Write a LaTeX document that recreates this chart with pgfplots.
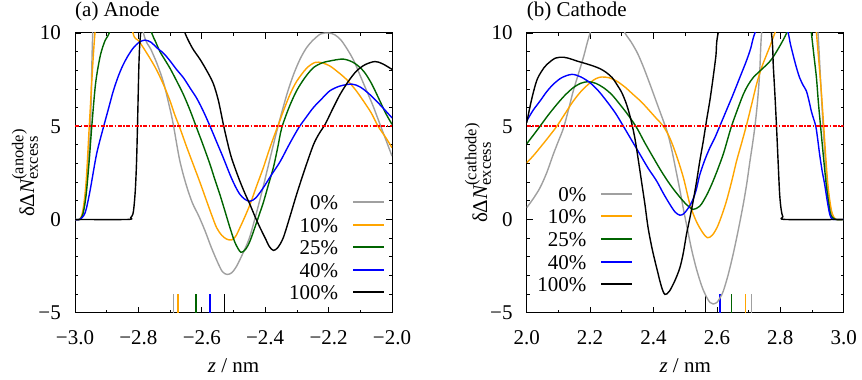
\documentclass[border=0pt]{standalone}
\usepackage{amsmath}
\usepackage{fontspec}
\setmainfont{Liberation Serif}
\usepackage{pgfplots}
\pgfplotsset{compat=1.18}
\DeclareMathSizes{21}{21}{16.5}{12.5}
\definecolor{cgray}{HTML}{A0A0A0}
\definecolor{corange}{HTML}{FFA500}
\definecolor{cgreen}{HTML}{006400}
\definecolor{cblue}{HTML}{0000FF}
\pgfplotsset{
  myax/.style={
    scale only axis, width=317pt, height=279.7pt,
    ymin=-5, ymax=10, ytick={-5,0,5,10}, yticklabels={−5,0,5,10},
    minor y tick num=4, minor x tick num=1,
    major tick length=6pt, minor tick length=3pt,
    tick style={black, line width=0.8pt},
    axis line style={line width=1pt},
    xticklabel style={inner sep=0pt, anchor=north, yshift=-17.3pt},
    yticklabel style={inner sep=0pt, anchor=east, xshift=-14pt},
    title style={inner sep=0pt, anchor=base west, at={(axis description cs:0,1)}, yshift=10.3pt},
    xlabel style={inner sep=0pt, anchor=base, at={(axis description cs:0.5,0)}, yshift=-60pt},
    legend plot pos=right, legend cell align=right,
    legend image code/.code={\draw[##1, line width=2pt] (0pt,0pt) -- (31pt,0pt);},
    legend style={draw=none, fill=none, inner sep=0pt, outer sep=0pt, row sep=7.6pt, column sep=14pt,
      nodes={inner sep=0pt, text height=15pt, text depth=0pt}},
  },
  cur/.style={smooth, line width=1.4pt},
  mk/.style={line width=1.3pt, forget plot},
  rl/.style={red, line width=2.4pt, dash pattern=on 4pt off 1.5pt on 1.5pt off 1.5pt, forget plot},
}
\begin{document}
\begin{tikzpicture}[font=\fontsize{21}{25}\selectfont]
\path[use as bounding box] (0,0) rectangle (862pt,380pt);
\begin{axis}[myax, at={(75pt,67.3pt)}, anchor=south west,
  xmin=-3, xmax=-2, xtick={-3,-2.8,-2.6,-2.4,-2.2,-2},
  xticklabels={−3.0,−2.8,−2.6,−2.4,−2.2,−2.0},
  title={(a) Anode}, xlabel={\textit{z} / nm},
  ylabel={$\text{δΔ}\textit{N}^{\text{(anode)}}_{\text{excess}}$},
  ylabel style={at={(axis description cs:-0.1577,0.5)}, anchor=center, inner sep=0pt},
  legend style={at={(axis description cs:1,0)}, anchor=south east, xshift=-7pt, yshift=12.7pt}]
\addplot[mk, cgray] coordinates {(-2.690,-5) (-2.690,-4)};
\addplot[mk, corange] coordinates {(-2.675,-5) (-2.675,-4)};
\addplot[mk, cgreen] coordinates {(-2.618,-5) (-2.618,-4)};
\addplot[mk, cblue] coordinates {(-2.574,-5) (-2.574,-4)};
\addplot[mk, black] coordinates {(-2.529,-5) (-2.529,-4)};
\addplot[cur, cgray] coordinates {(-3.0,0) (-2.985,0) (-2.975,0.3) (-2.965,1.5) (-2.958,3.3) (-2.951,5) (-2.944,10) (-2.93,13.5) (-2.87,16) (-2.82,13.5) (-2.784,10) (-2.76,9.1) (-2.74,8.3) (-2.72,7.3) (-2.70,5.9) (-2.69,5.1) (-2.67,3.2) (-2.65,1.9) (-2.63,0.9) (-2.61,0.2) (-2.59,-0.6) (-2.57,-1.5) (-2.55,-2.3) (-2.535,-2.8) (-2.52,-2.95) (-2.505,-2.85) (-2.49,-2.5) (-2.47,-1.8) (-2.45,-1.0) (-2.43,0.2) (-2.41,1.5) (-2.39,2.9) (-2.37,4.3) (-2.35,5.6) (-2.33,6.8) (-2.31,7.8) (-2.29,8.6) (-2.27,9.2) (-2.25,9.6) (-2.225,9.95) (-2.20,10.0) (-2.18,9.9) (-2.16,9.6) (-2.14,9.1) (-2.12,8.5) (-2.10,7.7) (-2.08,6.9) (-2.06,6.1) (-2.04,5.2) (-2.02,4.3) (-2.0,3.4)};
\addlegendentry{0\%}
\addplot[cur, corange] coordinates {(-3,0) (-2.985,0) (-2.975,0.5) (-2.965,2.0) (-2.955,5) (-2.945,8) (-2.937,10) (-2.92,13) (-2.87,14.5) (-2.84,12.5) (-2.817,10) (-2.80,9.6) (-2.784,9.2) (-2.762,8.6) (-2.742,8.0) (-2.72,7.2) (-2.70,6.35) (-2.685,5.6) (-2.669,4.9) (-2.648,3.9) (-2.627,2.95) (-2.606,2.0) (-2.585,1.0) (-2.568,0.2) (-2.553,-0.45) (-2.537,-0.85) (-2.522,-1.05) (-2.506,-1.10) (-2.493,-0.9) (-2.48,-0.45) (-2.464,0.15) (-2.448,0.8) (-2.427,1.8) (-2.406,2.77) (-2.39,3.6) (-2.374,4.38) (-2.358,5.1) (-2.343,5.8) (-2.322,6.7) (-2.301,7.4) (-2.27,8.1) (-2.243,8.42) (-2.22,8.4) (-2.196,8.23) (-2.17,7.9) (-2.143,7.5) (-2.115,6.95) (-2.09,6.35) (-2.065,5.7) (-2.044,5.0) (-2.02,4.4) (-2.0,3.85)};
\addlegendentry{10\%}
\addplot[cur, cgreen] coordinates {(-3,0) (-2.985,0) (-2.975,0.3) (-2.965,1.3) (-2.955,3.2) (-2.947,5) (-2.935,7.3) (-2.92,8.8) (-2.905,9.6) (-2.892,10) (-2.86,11.5) (-2.80,11.8) (-2.77,10.8) (-2.758,10) (-2.745,9.5) (-2.732,9.0) (-2.716,8.55) (-2.70,8.1) (-2.68,7.45) (-2.658,6.7) (-2.637,5.85) (-2.616,4.9) (-2.595,3.95) (-2.574,2.95) (-2.558,2.1) (-2.543,1.34) (-2.527,0.45) (-2.511,-0.45) (-2.495,-1.25) (-2.477,-1.76) (-2.462,-1.6) (-2.448,-1.16) (-2.43,-0.3) (-2.418,0.3) (-2.406,0.9) (-2.39,1.85) (-2.374,2.8) (-2.36,3.9) (-2.348,4.9) (-2.325,6.0) (-2.301,6.9) (-2.275,7.6) (-2.248,8.14) (-2.22,8.4) (-2.196,8.5) (-2.154,8.6) (-2.12,8.4) (-2.09,7.96) (-2.065,7.3) (-2.038,6.35) (-2.02,5.7) (-2.0,5.1)};
\addlegendentry{25\%}
\addplot[cur, cblue] coordinates {(-3,0) (-2.985,0) (-2.968,0.36) (-2.953,1.5) (-2.932,3.5) (-2.911,4.9) (-2.895,5.9) (-2.879,6.9) (-2.863,7.7) (-2.848,8.3) (-2.832,8.8) (-2.816,9.2) (-2.798,9.5) (-2.779,9.62) (-2.76,9.5) (-2.742,9.21) (-2.72,8.9) (-2.70,8.5) (-2.68,8.05) (-2.658,7.6) (-2.637,7.05) (-2.616,6.5) (-2.595,5.8) (-2.574,5.0) (-2.553,4.15) (-2.532,3.3) (-2.511,2.4) (-2.495,1.8) (-2.48,1.35) (-2.464,1.08) (-2.448,0.98) (-2.43,1.15) (-2.406,1.7) (-2.38,2.4) (-2.353,3.1) (-2.325,4.0) (-2.295,4.9) (-2.27,5.5) (-2.248,6.0) (-2.22,6.5) (-2.196,6.9) (-2.165,7.15) (-2.127,7.26) (-2.1,7.1) (-2.07,6.7) (-2.035,6.1) (-2.0,5.45)};
\addlegendentry{40\%}
\addplot[cur, black] coordinates {(-3,0) (-2.835,0) (-2.824,0.1) (-2.816,0.4) (-2.81,1.5) (-2.806,3.0) (-2.803,4.9) (-2.798,8.5) (-2.793,10) (-2.78,12) (-2.72,13) (-2.67,11) (-2.653,10) (-2.63,9.2) (-2.606,8.6) (-2.585,8.0) (-2.564,7.3) (-2.548,6.4) (-2.532,5.1) (-2.52,4.2) (-2.508,3.4) (-2.494,2.7) (-2.48,2.06) (-2.464,1.4) (-2.448,0.8) (-2.432,0.15) (-2.416,-0.45) (-2.4,-1.0) (-2.387,-1.45) (-2.374,-1.66) (-2.36,-1.5) (-2.343,-0.98) (-2.322,0.15) (-2.301,1.34) (-2.275,2.7) (-2.248,4.0) (-2.23,4.6) (-2.211,5.1) (-2.188,5.9) (-2.164,6.7) (-2.138,7.4) (-2.112,7.96) (-2.085,8.3) (-2.054,8.47) (-2.03,8.35) (-2.0,8.05)};
\addlegendentry{100\%}
\addplot[rl] coordinates {(-3,5) (-2,5)};
\end{axis}
\begin{axis}[myax, at={(526.7pt,67.3pt)}, anchor=south west,
  xmin=2, xmax=3, xtick={2,2.2,2.4,2.6,2.8,3},
  xticklabels={2.0,2.2,2.4,2.6,2.8,3.0},
  title={(b) Cathode}, xlabel={\textit{z} / nm},
  ylabel={$\text{δΔ}\textit{N}^{\text{(cathode)}}_{\text{excess}}$},
  ylabel style={at={(axis description cs:-0.1535,0.5)}, anchor=center, inner sep=0pt},
  legend style={at={(axis description cs:0,0)}, anchor=south east, xshift=106.6pt, yshift=21pt}]
\addplot[mk, black] coordinates {(2.565,-5) (2.565,-4)};
\addplot[mk, cblue] coordinates {(2.610,-5) (2.610,-4)};
\addplot[mk, cgreen] coordinates {(2.645,-5) (2.645,-4)};
\addplot[mk, corange] coordinates {(2.690,-5) (2.690,-4)};
\addplot[mk, cgray] coordinates {(2.710,-5) (2.710,-4)};
\addplot[cur, cgray] coordinates {(2.0,0.63) (2.02,1.1) (2.042,1.7) (2.063,2.5) (2.084,3.5) (2.1,4.2) (2.116,4.9) (2.132,5.9) (2.147,6.9) (2.163,7.8) (2.179,8.7) (2.2,10) (2.25,12.5) (2.30,10.5) (2.31,10) (2.33,9.5) (2.35,8.9) (2.37,8.1) (2.39,7.2) (2.405,6.5) (2.42,5.8) (2.433,5.2) (2.445,4.6) (2.458,3.7) (2.47,2.7) (2.483,1.6) (2.495,0.5) (2.508,-0.6) (2.52,-1.6) (2.533,-2.5) (2.545,-3.2) (2.555,-3.7) (2.567,-4.15) (2.578,-4.45) (2.588,-4.53) (2.6,-4.45) (2.61,-4.2) (2.62,-3.85) (2.635,-3.0) (2.651,-1.88) (2.667,-0.6) (2.683,0.8) (2.694,1.9) (2.704,3.1) (2.712,4.0) (2.72,5.0) (2.728,6.3) (2.735,7.9) (2.741,10) (2.76,13) (2.85,15) (2.91,12) (2.919,10) (2.927,7.5) (2.935,5.0) (2.943,3.0) (2.951,1.4) (2.96,0.5) (2.967,0.15) (2.977,0) (3.0,0)};
\addlegendentry{0\%}
\addplot[cur, corange] coordinates {(2.0,3.04) (2.02,3.4) (2.042,3.85) (2.068,4.4) (2.095,5.0) (2.12,5.65) (2.147,6.35) (2.173,6.9) (2.2,7.33) (2.218,7.55) (2.236,7.64) (2.26,7.6) (2.284,7.42) (2.31,7.1) (2.336,6.7) (2.362,6.3) (2.389,5.8) (2.41,5.4) (2.431,5.0) (2.452,4.35) (2.473,3.4) (2.495,2.2) (2.515,0.8) (2.535,-0.1) (2.555,-0.7) (2.57,-0.98) (2.585,-0.85) (2.6,-0.45) (2.615,0.2) (2.63,0.98) (2.646,2.0) (2.662,3.13) (2.678,4.1) (2.694,5.1) (2.71,6.2) (2.725,7.25) (2.74,8.1) (2.757,8.85) (2.77,9.4) (2.783,10) (2.82,11.5) (2.88,12) (2.91,10.8) (2.914,10) (2.922,8.4) (2.93,6.7) (2.937,5.0) (2.944,3.2) (2.951,1.7) (2.96,0.6) (2.967,0.18) (2.977,0) (3,0)};
\addlegendentry{10\%}
\addplot[cur, cgreen] coordinates {(2.0,4.06) (2.02,4.5) (2.042,5.0) (2.068,5.6) (2.095,6.17) (2.12,6.65) (2.147,7.07) (2.17,7.3) (2.194,7.39) (2.218,7.3) (2.242,7.07) (2.268,6.7) (2.294,6.17) (2.32,5.6) (2.347,4.92) (2.373,4.1) (2.4,3.3) (2.426,2.55) (2.452,1.88) (2.478,1.3) (2.504,0.8) (2.525,0.54) (2.545,0.7) (2.557,0.98) (2.572,1.45) (2.588,2.06) (2.604,2.75) (2.62,3.5) (2.633,4.25) (2.646,5.0) (2.665,5.9) (2.683,6.7) (2.698,7.2) (2.714,7.6) (2.735,7.95) (2.757,8.3) (2.773,8.6) (2.788,9.0) (2.805,9.5) (2.82,10) (2.86,11.5) (2.89,11) (2.898,10) (2.906,8.8) (2.914,7.6) (2.92,6.3) (2.927,5.0) (2.937,3.2) (2.946,1.7) (2.955,0.6) (2.961,0.18) (2.975,0) (3,0)};
\addlegendentry{25\%}
\addplot[cur, cblue] coordinates {(2.0,5.28) (2.02,5.85) (2.042,6.35) (2.063,6.85) (2.084,7.25) (2.11,7.6) (2.142,7.78) (2.17,7.65) (2.2,7.33) (2.226,6.9) (2.252,6.35) (2.28,5.7) (2.305,5.0) (2.331,4.25) (2.357,3.5) (2.383,2.75) (2.41,2.06) (2.431,1.4) (2.452,0.8) (2.468,0.4) (2.483,0.23) (2.495,0.3) (2.505,0.5) (2.515,0.75) (2.525,1.1) (2.535,1.6) (2.546,2.4) (2.562,3.2) (2.578,3.85) (2.594,4.4) (2.609,5.0) (2.63,5.85) (2.651,6.7) (2.672,7.6) (2.693,8.5) (2.707,9.2) (2.72,10) (2.77,12) (2.81,11) (2.825,10) (2.832,9.4) (2.84,8.85) (2.85,8.2) (2.861,7.6) (2.872,7.2) (2.882,6.9) (2.89,6.4) (2.898,5.8) (2.905,5.4) (2.912,5.0) (2.918,4.3) (2.924,3.5) (2.932,2.6) (2.94,1.88) (2.948,1.0) (2.956,0.27) (2.962,0.05) (2.967,0) (3,0)};
\addlegendentry{40\%}
\addplot[cur, black] coordinates {(2.0,5.19) (2.015,6.4) (2.031,7.42) (2.047,7.95) (2.063,8.3) (2.09,8.65) (2.116,8.7) (2.137,8.62) (2.158,8.5) (2.184,8.37) (2.21,8.23) (2.232,8.08) (2.252,7.87) (2.27,7.6) (2.284,7.25) (2.3,6.8) (2.315,6.17) (2.328,5.4) (2.341,4.38) (2.352,3.2) (2.362,2.06) (2.373,0.8) (2.383,-0.45) (2.396,-1.6) (2.41,-2.6) (2.425,-3.6) (2.436,-4.02) (2.45,-3.85) (2.467,-3.3) (2.483,-2.6) (2.494,-1.8) (2.504,-0.8) (2.515,0.1) (2.525,0.98) (2.536,2.05) (2.546,3.13) (2.557,4.2) (2.567,5.28) (2.578,6.4) (2.588,7.6) (2.597,8.8) (2.604,10) (2.65,13) (2.74,13) (2.772,10) (2.778,8.2) (2.783,6.7) (2.788,5.0) (2.793,3.13) (2.798,1.34) (2.803,0.5) (2.808,0.15) (2.816,0) (3,0)};
\addlegendentry{100\%}
\addplot[rl] coordinates {(2,5) (3,5)};
\end{axis}
\end{tikzpicture}
\end{document}
